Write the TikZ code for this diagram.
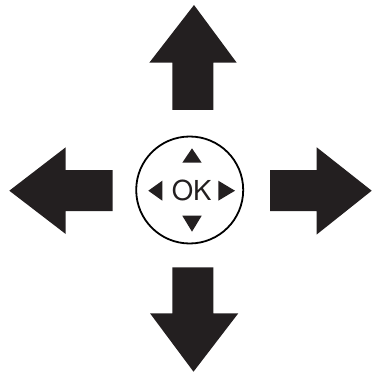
\documentclass[tikz,border=0pt]{standalone}
\usepackage{fontspec}
\setmainfont{TeX Gyre Heros}
\definecolor{ink}{HTML}{231F20}
\begin{document}
\begin{tikzpicture}[x=1pt,y=-1pt,
  bigarrow/.style={fill=ink,draw=none},
  tri/.style={fill=ink,draw=none}]
\useasboundingbox (0,0) rectangle (373,377);
% up arrow
\path[bigarrow] (194,5) -- (236.7,62.7) -- (213.3,62.7) -- (213.3,110) -- (172.3,110) -- (172.3,62.7) -- (149.3,62.7) -- cycle;
% down arrow
\path[bigarrow] (193.5,371.7) -- (238.3,313.3) -- (213.3,313.3) -- (213.3,267.3) -- (172.3,267.3) -- (172.3,313.3) -- (150,313.3) -- cycle;
% left arrow
\path[bigarrow] (9.3,190.7) -- (65.7,147.3) -- (65.7,170) -- (112.7,170) -- (112.7,211) -- (65.7,211) -- (65.7,234) -- cycle;
% right arrow
\path[bigarrow] (371.7,190.7) -- (316.7,147.3) -- (316.7,170) -- (270,170) -- (270,211) -- (316.7,211) -- (316.7,234.5) -- cycle;
% OK button
\node[circle,draw=black,line width=1.8pt,minimum size=107pt,inner sep=0pt] (ok) at (189.7,190) {};
\node[font=\fontsize{27.5}{30}\selectfont,inner sep=0pt,text=ink] (oktext) at (191.7,190.5) {OK};
\path[tri] (192,148.3) -- (201.7,162.7) -- (182.3,162.7) -- cycle;
\path[tri] (192,231.7) -- (201.7,215.7) -- (182.3,215.7) -- cycle;
\path[tri] (148.3,190.7) -- (162.3,180.7) -- (162.3,200.7) -- cycle;
\path[tri] (235,190.7) -- (218.3,180.7) -- (218.3,200.7) -- cycle;
\end{tikzpicture}
\end{document}
